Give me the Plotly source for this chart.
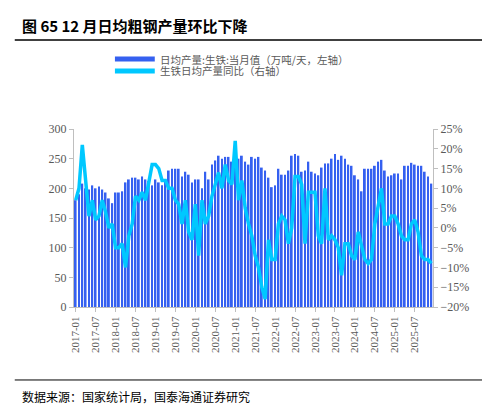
import plotly.graph_objects as go

months = [f"{y}-{m:02d}" for y in range(2017, 2026) for m in range(1, 13)]

output_daily = [
    180, 190, 208, 200, 198, 205, 200, 203, 198, 193, 183, 175,
    193, 193, 195, 210, 215, 218, 218, 215, 220, 215, 212, 205,
    215, 210, 205, 215, 230, 233, 233, 233, 220, 228, 223, 210,
    215, 215, 200, 228, 215, 240, 247, 255, 250, 253, 253, 245,
    240, 250, 255, 245, 240, 253, 250, 253, 235, 230, 218, 202,
    205, 233, 223, 223, 230, 255, 258, 255, 228, 230, 245, 228,
    225, 222, 235, 242, 242, 250, 258, 248, 255, 250, 240, 238,
    222, 215, 195, 233, 233, 233, 238, 245, 248, 230, 220, 222,
    225, 225, 215, 238, 238, 243, 240, 238, 238, 228, 220, 208,
]

yoy_pct = [
    7, 10, 21, 12, 3, 7, 2, 3, 7, 4, 0, 1,
    -5, -5, -4, -10, -2, 1, 8, 7, 9, 7, 12, 16,
    16, 15, 12, 12, 10, 10, 7, 6, 1, 7, -1, -3,
    6, -7, 7, 1, 3, 8, 11, 14, 10, 16, 12, 11,
    22, 7, 12, 5, 1, -2, -7, -10, -15, -18, -3, -8,
    -8, 1, 3, 2, -4, 0, 13, 13, 11, -4, 9, 9,
    9, -2, -4, 10, -3, -2, -3, -5, -12, -4, -4, -7,
    -8, -1, -5, -8, -9, -8, 1, 5, 10, 1, 1, 3,
    3, 1, -2, -3, -3, 1, 2, -1, -7, -8, -8, -9,
]

tick_labels = months[::6]

BAR_COLOR = "#3560F0"
LINE_COLOR = "#00C8FF"
TICK_FONT = dict(family="Liberation Serif", size=12, color="#595959")
CJK = "Noto Sans CJK SC"

fig = go.Figure()
fig.add_trace(go.Bar(x=months, y=output_daily, marker_color=BAR_COLOR,
                     marker_line_width=0, showlegend=False))
fig.add_trace(go.Scatter(x=months, y=yoy_pct, yaxis="y2", mode="lines",
                         line=dict(color=LINE_COLOR, width=3.5), showlegend=False))

fig.update_layout(
    width=490, height=405,
    margin=dict(l=66, r=65, t=121, b=106),
    plot_bgcolor="white", paper_bgcolor="white",
    bargap=0.45,
    xaxis=dict(type="category", tickvals=tick_labels, ticktext=tick_labels,
               tickangle=-90, tickfont=dict(family="Liberation Serif", size=11, color="#595959"),
               showline=True, linecolor="#bfbfbf", ticks="outside", ticklen=4,
               tickcolor="#bfbfbf", showgrid=False, automargin=False),
    yaxis=dict(range=[0, 300], dtick=50, tickfont=TICK_FONT, showgrid=False,
               showline=True, linecolor="#bfbfbf", ticks="outside", ticklen=4,
               tickcolor="#bfbfbf", zeroline=False, automargin=False),
    yaxis2=dict(range=[-20, 25], dtick=5, overlaying="y", side="right",
                ticksuffix="%", tickfont=TICK_FONT, showgrid=False,
                showline=True, linecolor="#bfbfbf", ticks="outside", ticklen=4,
                tickcolor="#bfbfbf", zeroline=False, automargin=False),
)

# title and rules
fig.add_annotation(xref="paper", yref="paper", x=-0.15, y=1.0, yshift=104,
                   xanchor="left", yanchor="middle", showarrow=False,
                   text="<b>图 65 12 月日均粗钢产量环比下降</b>",
                   font=dict(family=CJK, size=15, color="black"))
fig.add_shape(type="line", xref="paper", yref="paper", x0=-0.165, x1=1.185,
              y0=1.5, y1=1.5, line=dict(color="black", width=1.5))
fig.add_shape(type="line", xref="paper", yref="paper", x0=-0.165, x1=1.185,
              y0=-0.41, y1=-0.41, line=dict(color="black", width=1))
fig.add_annotation(xref="paper", yref="paper", x=-0.15, y=-0.50,
                   xanchor="left", yanchor="middle", showarrow=False,
                   text="数据来源：国家统计局，国泰海通证券研究",
                   font=dict(family=CJK, size=12, color="black"))

# legend
fig.add_shape(type="line", xref="paper", yref="paper", x0=0.114, x1=0.225,
              y0=1.393, y1=1.393, line=dict(color=BAR_COLOR, width=5))
fig.add_shape(type="line", xref="paper", yref="paper", x0=0.114, x1=0.225,
              y0=1.326, y1=1.326, line=dict(color=LINE_COLOR, width=5))
fig.add_annotation(xref="paper", yref="paper", x=0.235, y=1.393,
                   xanchor="left", yanchor="middle", showarrow=False,
                   text="日均产量:生铁:当月值（万吨/天，左轴）",
                   font=dict(family=CJK, size=10.5, color="#595959"))
fig.add_annotation(xref="paper", yref="paper", x=0.235, y=1.326,
                   xanchor="left", yanchor="middle", showarrow=False,
                   text="生铁日均产量同比（右轴）",
                   font=dict(family=CJK, size=10.5, color="#595959"))

fig.write_html("out.html")
